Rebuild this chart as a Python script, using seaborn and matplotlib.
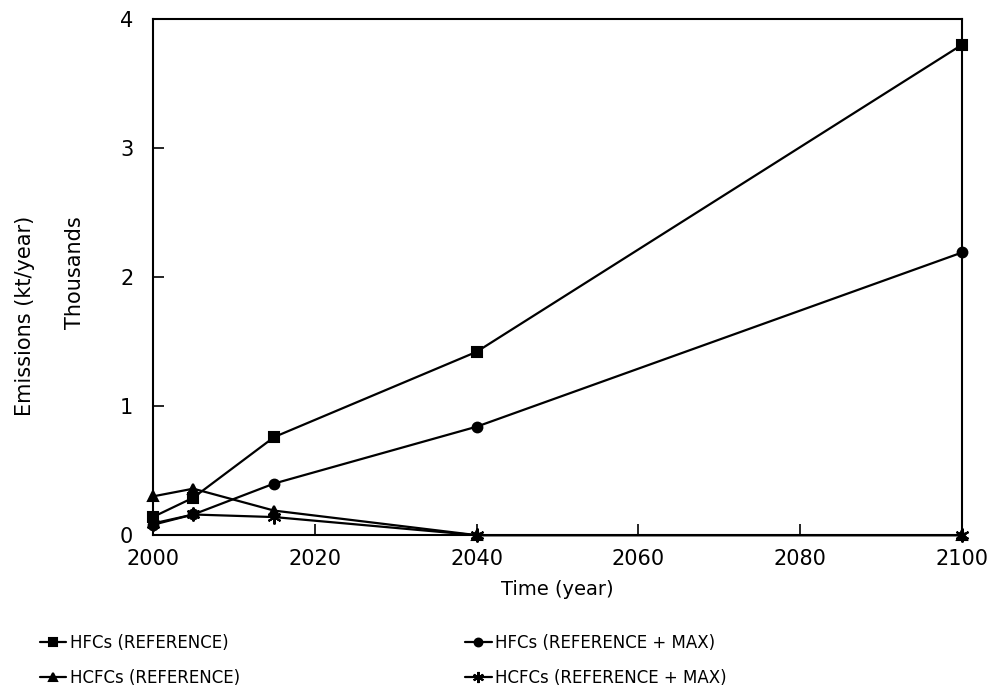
import matplotlib
matplotlib.use("Agg")
import matplotlib.pyplot as plt
import seaborn as sns
import pandas as pd

years = [2000, 2005, 2015, 2040, 2100]
hfc_ref = [0.14, 0.29, 0.76, 1.42, 3.80]
hfc_max = [0.08, 0.16, 0.40, 0.84, 2.19]
hcfc_ref = [0.30, 0.36, 0.19, 0.0, 0.0]
hcfc_max = [0.09, 0.16, 0.14, 0.0, 0.0]

series = {
    "HFCs (REFERENCE)": hfc_ref,
    "HFCs (REFERENCE + MAX)": hfc_max,
    "HCFCs (REFERENCE)": hcfc_ref,
    "HCFCs (REFERENCE + MAX)": hcfc_max,
}
markers = {
    "HFCs (REFERENCE)": "s",
    "HFCs (REFERENCE + MAX)": "o",
    "HCFCs (REFERENCE)": "^",
    "HCFCs (REFERENCE + MAX)": (6, 2, 0),
}

df = pd.concat(
    [pd.DataFrame({"year": years, "value": v, "series": k}) for k, v in series.items()]
)

sns.set_theme(style="ticks")
plt.rcParams["font.family"] = ["DejaVu Sans"]
plt.rcParams["text.color"] = "black"
plt.rcParams["axes.labelcolor"] = "black"

fig = plt.figure(figsize=(9.92, 6.95), dpi=100)
ax = fig.add_axes([0.154, 0.230, 0.816, 0.743])

handles = {}
for name in series:
    sub = df[df["series"] == name]
    sns.lineplot(data=sub, x="year", y="value", ax=ax, color="black", lw=1.6,
                 marker=markers[name], markersize=7 if name != "HCFCs (REFERENCE + MAX)" else 10,
                 markeredgecolor="black", markerfacecolor="black", markeredgewidth=1.5,
                 clip_on=False, zorder=3)
    handles[name] = ax.lines[-1]

ax.set_xlim(2000, 2100)
ax.set_ylim(0, 4)
ax.set_xticks(range(2000, 2101, 20))
ax.set_yticks(range(0, 5))
ax.tick_params(direction="in", length=8, width=1.2, labelsize=15, colors="black")
ax.tick_params(axis="x", pad=10)
ax.tick_params(axis="y", pad=14)
for s in ax.spines.values():
    s.set_linewidth(1.5)
    s.set_color("black")
ax.set_xlabel("Time (year)", fontsize=14, labelpad=8)
ax.set_ylabel("")
if ax.get_legend():
    ax.get_legend().remove()

fig.text(0.025, 0.545, "Emissions (kt/year)", rotation=90, fontsize=15, va="center", ha="center")
fig.text(0.076, 0.608, "Thousands", rotation=90, fontsize=15, va="center", ha="center")

order = ["HFCs (REFERENCE)", "HCFCs (REFERENCE)",
         "HFCs (REFERENCE + MAX)", "HCFCs (REFERENCE + MAX)"]
fig.legend([handles[k] for k in order], order, ncol=2, frameon=False,
           loc="lower left", bbox_to_anchor=(0.025, -0.01), fontsize=12,
           handlelength=1.6, handletextpad=0.2, columnspacing=13.5, labelspacing=1.0,
           markerscale=0.8)

fig.savefig("out.png", dpi=100)
